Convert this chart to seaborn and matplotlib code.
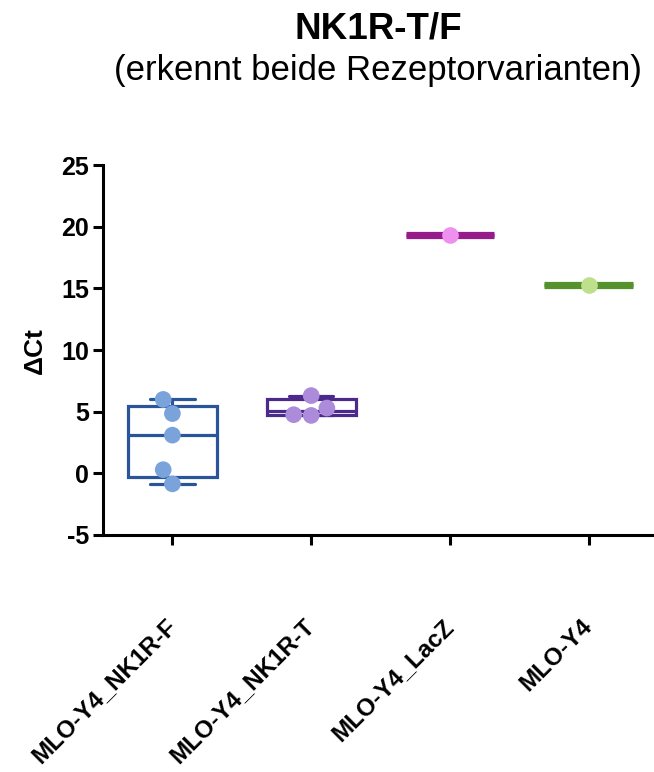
import numpy as np
import pandas as pd
import matplotlib
matplotlib.use("Agg")
import matplotlib.pyplot as plt
import seaborn as sns

# ΔCt values per cell line
groups = ["MLO-Y4_NK1R-F", "MLO-Y4_NK1R-T", "MLO-Y4_LacZ", "MLO-Y4"]
nk1r_f = [6.0, 4.85, 3.1, 0.3, -0.85]
nk1r_t = [4.70, 4.76, 5.30, 6.31]
lacz = [19.35]
mlo_y4 = [15.3]

edge_colors = ["#2A5599", "#4B2A8C", "#961C8C", "#55922D"]
point_colors = ["#7BA3DB", "#AC8CDA", "#EE90EE", "#BEE08C"]

title = "NK1R-T/F"
subtitle = "(erkennt beide Rezeptorvarianten)"
ylabel = "ΔCt"
yticks = [-5, 0, 5, 10, 15, 20, 25]

values = [nk1r_f, nk1r_t, lacz, mlo_y4]
df = pd.DataFrame({
    "group": np.repeat(groups, [len(v) for v in values]),
    "dct": np.concatenate(values),
})

sns.set_theme(style="ticks")
plt.rcParams["font.family"] = ["Liberation Sans", "DejaVu Sans"]
plt.rcParams["axes.unicode_minus"] = False
for key in ["text.color", "axes.labelcolor", "xtick.color", "ytick.color",
            "axes.edgecolor"]:
    plt.rcParams[key] = "black"

fig = plt.figure(figsize=(6.54, 7.72), dpi=100)
ax = fig.add_axes([0.1575, 0.307, 0.8425, 0.479])


def box_stats(v):
    """Quartiles with the (n+1)p rule; whiskers span min to max."""
    v = np.asarray(v, dtype=float)
    if len(v) > 1:
        q1, med, q3 = np.percentile(v, [25, 50, 75], method="weibull")
    else:
        q1 = med = q3 = v[0]
    return dict(med=med, q1=q1, q3=q3, whislo=v.min(), whishi=v.max(), fliers=[])


lw = 2.3
for i, v in enumerate(values):
    c = edge_colors[i]
    single = len(v) == 1
    ax.bxp([box_stats(v)], positions=[i], widths=0.64, showfliers=False,
           capwidths=0.32, patch_artist=True,
           boxprops=dict(facecolor="none", edgecolor=c, linewidth=lw),
           whiskerprops=dict(color=c, linewidth=lw),
           capprops=dict(color=c, linewidth=lw),
           medianprops=dict(color=c, linewidth=5.2 if single else lw,
                            solid_capstyle="butt"),
           manage_ticks=False, zorder=2)

sns.swarmplot(data=df, x="group", y="dct", hue="group", order=groups,
              hue_order=groups, palette=point_colors, size=12,
              linewidth=0, legend=False, ax=ax, zorder=3)

ax.set_xlim(-0.5, 3.47)
ax.set_ylim(-5, 25)
ax.set_yticks(yticks)
ax.set_xticks(range(len(groups)))
ax.set_xticklabels(groups, rotation=45, ha="right", va="center",
                   rotation_mode="anchor", fontweight="bold", fontsize=17.5)
ax.tick_params(axis="x", pad=56, length=7, width=2.2, color="black")
ax.tick_params(axis="y", length=7, width=2.2, color="black", pad=3)
for t in ax.get_yticklabels():
    t.set_fontweight("bold")
    t.set_fontsize(18)
ax.set_xlabel("")
ax.set_ylabel(ylabel, fontsize=19, fontweight="bold", labelpad=10)

for s in ["left", "bottom"]:
    ax.spines[s].set_linewidth(2.2)
    ax.spines[s].set_color("black")
sns.despine(ax=ax)

fig.text(0.578, 0.963, title, ha="center", va="center",
         fontsize=26.5, fontweight="bold")
fig.text(0.578, 0.909, subtitle, ha="center", va="center", fontsize=25)

fig.savefig("out.png", dpi=100)
